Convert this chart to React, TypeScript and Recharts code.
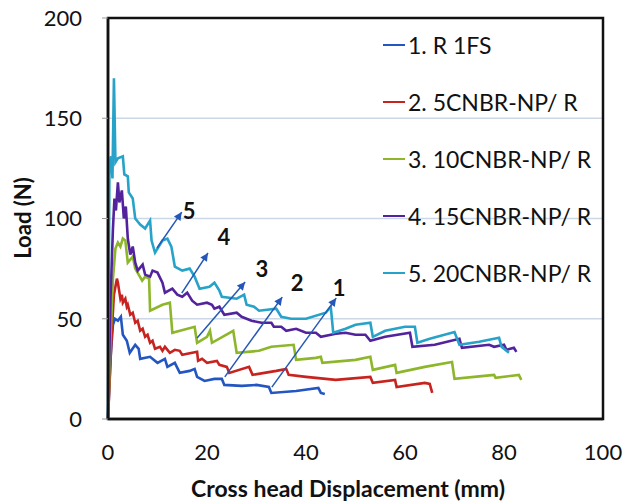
import React from "react";
import {
  ComposedChart,
  Line,
  Scatter,
  XAxis,
  YAxis,
  CartesianGrid,
  ReferenceArea,
} from "recharts";

const FONT = "Lato, 'Open Sans', sans-serif";

const xTicks = [0, 20, 40, 60, 80, 100];
const yTicks = [0, 50, 100, 150, 200];

const seriesNames = [
  "1. R 1FS",
  "2. 5CNBR-NP/ R",
  "3. 10CNBR-NP/ R",
  "4. 15CNBR-NP/ R",
  "5. 20CNBR-NP/ R",
];
const seriesColors = ["#2356C1", "#C7231F", "#8DB62B", "#52239C", "#27A2C8"];

// [displacement mm, load N]
const r1fs = [
  [0, 0], [0.5, 30], [1, 47], [1.4, 50], [2, 49], [2.6, 51], [3, 42], [3.8, 39],
  [4.4, 33], [5.5, 37], [6.2, 35], [6.5, 30], [8.5, 31], [10, 28], [11.5, 30],
  [12, 26], [13.5, 28], [14.5, 23], [16.5, 24], [17.5, 25], [18, 21], [19.5, 19],
  [21.5, 20], [23, 20], [23.5, 17], [27, 16.5], [30, 17], [32.5, 16], [33, 13],
  [38, 14], [42.5, 15.5], [43, 13], [43.8, 12.5],
];
const cnbr5 = [
  [0, 0], [0.8, 45], [1.2, 62], [1.8, 70], [2, 68], [2.5, 60], [2.8, 62], [3, 58],
  [3.5, 60], [3.8, 56], [4, 57], [4.5, 52], [5, 53], [5.5, 48], [6, 49], [6.5, 44],
  [7, 45], [7.5, 41], [8, 42], [8.5, 38], [9, 39], [9.5, 35], [10.5, 36], [11, 34],
  [11.5, 36], [12.5, 33], [13.5, 34.5], [14.5, 34], [15, 32], [18, 33.5], [18.2, 29],
  [19, 30], [20, 28], [22, 29], [22.5, 27], [24, 26], [24.5, 23], [28.5, 26],
  [29.2, 22], [34, 24], [36, 25], [36.5, 22], [40, 21], [46, 19.5], [53, 21],
  [53.5, 18], [58, 19.5], [58.3, 16], [64, 18], [65, 17.5], [65.5, 13],
];
const cnbr10 = [
  [0, 0], [0.5, 40], [1, 70], [1.5, 85], [2, 88], [2.5, 86], [3, 90], [3.5, 89],
  [4, 78], [5, 81], [5.5, 75], [6.9, 69], [7.5, 71], [8.3, 70], [8.5, 54], [11, 57],
  [12.5, 58], [13, 43], [17.5, 46], [18, 38], [20, 41], [20.6, 44], [21, 38],
  [25.3, 44], [26, 33], [30.5, 34], [33, 36], [37.5, 37], [38, 29.5], [42, 30.5],
  [43, 31], [43.3, 28], [50, 29.5], [53, 31], [53.5, 24.5], [58, 27], [58.3, 23],
  [64, 26], [69.5, 28.4], [70, 20], [76, 21.5], [78, 22], [78.3, 20.5], [83, 22],
  [83.5, 19.5],
];
const cnbr15 = [
  [0, 0], [0.5, 60], [1, 95], [1.3, 110], [1.6, 104], [2, 118], [2.3, 108],
  [2.8, 114], [3.2, 100], [3.6, 106], [4, 90], [4.5, 82], [5, 86], [5.5, 78],
  [6, 74], [7, 77], [7.5, 72], [8.5, 71], [9, 74], [10, 73], [11, 68], [11.5, 63],
  [13, 65], [14, 62], [15, 61], [16, 63], [17, 59], [18, 57], [20, 58], [21, 57],
  [21.5, 55], [22.5, 56], [23.5, 52], [26, 53], [27, 51], [29, 49], [31, 48],
  [33, 48], [33.5, 46], [35, 46], [36, 44], [38, 45], [40, 43], [42, 43], [43, 41],
  [46, 42.5], [48, 43], [50, 42], [52, 42], [53, 39], [56, 41], [61, 43],
  [61.5, 36], [66, 37], [71, 40], [71.5, 35.5], [77, 37], [78, 36], [80, 37],
  [80.5, 34.5], [82, 35.5], [82.5, 33.5],
];
const cnbr20 = [
  [0, 0], [0.3, 128], [0.6, 131], [0.9, 120], [1.2, 170], [1.5, 128], [2, 130],
  [3, 131], [3.3, 122], [4, 121], [4.2, 113], [5, 110], [5.5, 100], [6.5, 97],
  [7.5, 95], [8.5, 99], [8.8, 89], [9.5, 83], [11, 89], [12, 90], [12.8, 86],
  [13.5, 76], [15, 74], [16.5, 75], [17.5, 71], [18.5, 65], [20.5, 66], [21.5, 68],
  [22.5, 64], [23, 61], [26, 60], [27.5, 62], [28, 57], [29.5, 56], [30.5, 54],
  [34, 55], [35, 51], [37, 50], [40, 50], [44, 53], [45, 56], [45.5, 43],
  [48, 45], [50, 47], [53, 48], [53.5, 41], [56, 44], [60, 46], [62, 46],
  [62.5, 38], [65, 40], [70, 43.4], [71, 37], [75, 38.5], [79, 40.5], [79.5, 36],
  [81, 33],
];
const allSeries = [r1fs, cnbr5, cnbr10, cnbr15, cnbr20];

const arrowTails = [[33.1, 15.9], [23.6, 21], [18, 40.4], [14.9, 62.8], [9.9, 85.3]];
const arrowHeads = [[46.1, 60.3], [35.2, 60.8], [27.7, 68.3], [20.2, 82.8], [14.9, 103.2]];
const arrowLabels = ["1", "2", "3", "4", "5"];
const labelPos = [[46.7, 65.8], [38.2, 68.3], [31.1, 75.3], [23.4, 90.8], [16.4, 104.2]];

const ARROW = "#2457B8";

const toRows = (pts: number[][]) => pts.map(([x, y]) => ({ x, y }));

const labelRows = labelPos.map(([x, y], i) => ({ x, y, text: arrowLabels[i] }));

function ArrowHead(props: any) {
  const { cx, cy, index, points } = props;
  if (index !== 1 || cx == null) return <g key={`d${index}`} />;
  let angle = 0;
  if (points && points.length > 1) {
    angle = Math.atan2(points[1].y - points[0].y, points[1].x - points[0].x);
  }
  const deg = (angle * 180) / Math.PI;
  return (
    <polygon
      key={`d${index}`}
      points="0,0 -8,-4 -8,4"
      fill={ARROW}
      transform={`translate(${cx},${cy}) rotate(${deg})`}
    />
  );
}

function NumberLabel(props: any) {
  const { cx, cy, payload } = props;
  return (
    <text
      x={cx}
      y={cy}
      textAnchor="middle"
      dominantBaseline="central"
      fontFamily={FONT}
      fontWeight={700}
      fontSize={22}
      fill="#111"
    >
      {payload.text}
    </text>
  );
}

function LegendBox() {
  return (
    <div
      style={{
        position: "absolute",
        left: 383,
        top: 16,
        width: 240,
        fontFamily: FONT,
        fontSize: 23,
        color: "#111",
      }}
    >
      {seriesNames.map((n, i) => (
        <div
          key={n}
          style={{ height: 57, display: "flex", alignItems: "center", whiteSpace: "nowrap" }}
        >
          <span
            style={{
              display: "inline-block",
              width: 22,
              height: 2,
              background: seriesColors[i],
              marginRight: 3,
            }}
          />
          {n}
        </div>
      ))}
    </div>
  );
}

export default function App() {
  return (
    <div style={{ position: "absolute", left: 0, top: 0, width: 632, height: 501, background: "#fff" }}>
      <ComposedChart
        width={632}
        height={501}
        margin={{ top: 18, right: 29, left: 0, bottom: 0 }}
      >
        <CartesianGrid vertical={false} stroke="#CCD7E6" strokeWidth={1.5} />
        <XAxis
          type="number"
          dataKey="x"
          domain={[0, 100]}
          ticks={xTicks}
          height={82}
          tickLine={false}
          tickSize={6}
          tickMargin={19}
          axisLine={{ stroke: "#111", strokeWidth: 2.5 }}
          tick={{ fill: "#111", fontSize: 22, fontFamily: FONT }}
          label={() => (
            <text
              x={348}
              y={488}
              textAnchor="middle"
              dominantBaseline="central"
              fontFamily={FONT}
              fontWeight={700}
              fontSize={23}
              fill="#111"
            >
              Cross head Displacement (mm)
            </text>
          )}
        />
        <YAxis
          type="number"
          domain={[0, 200]}
          ticks={yTicks}
          width={108}
          tickSize={6}
          tickMargin={20}
          tickLine={{ stroke: "#999" }}
          axisLine={{ stroke: "#111", strokeWidth: 2.5 }}
          tick={{ fill: "#111", fontSize: 22, fontFamily: FONT }}
          label={() => (
            <text
              x={22}
              y={218}
              textAnchor="middle"
              dominantBaseline="central"
              transform="rotate(-90 22 218)"
              fontFamily={FONT}
              fontWeight={700}
              fontSize={22}
              fill="#111"
            >
              Load (N)
            </text>
          )}
        />
        <ReferenceArea
          x1={0}
          x2={100}
          y1={0}
          y2={200}
          fill="none"
          fillOpacity={0}
          stroke="#111"
          strokeWidth={2.5}
        />
        {allSeries.map((s, i) => (
          <Line
            key={seriesNames[i]}
            name={seriesNames[i]}
            data={toRows(s)}
            dataKey="y"
            type="linear"
            stroke={seriesColors[i]}
            strokeWidth={2.6}
            dot={false}
            activeDot={false}
            isAnimationActive={false}
          />
        ))}
        {arrowTails.map((t, i) => (
          <Line
            key={`arrow${i}`}
            name={`arrow${i}`}
            legendType="none"
            data={toRows([t, arrowHeads[i]])}
            dataKey="y"
            type="linear"
            stroke={ARROW}
            strokeWidth={1.5}
            dot={ArrowHead}
            activeDot={false}
            isAnimationActive={false}
          />
        ))}
        <Scatter
          name="labels"
          legendType="none"
          data={labelRows}
          dataKey="y"
          shape={NumberLabel}
          isAnimationActive={false}
        />
      </ComposedChart>
      <LegendBox />
    </div>
  );
}
